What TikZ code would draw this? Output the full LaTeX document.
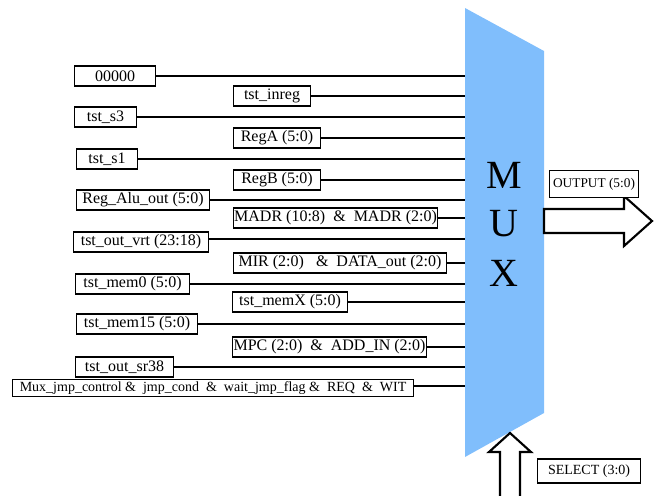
\documentclass[tikz,border=0pt]{standalone}
\usepackage{fontspec}
\setmainfont{Liberation Serif}
\definecolor{muxblue}{RGB}{128,190,252}
\begin{document}
\begin{tikzpicture}[x=0.75pt,y=-0.75pt,
  lbl/.style={draw=black, line width=0.8pt, fill=white, inner sep=0pt,
    minimum height=15pt, anchor=west, font=\fontsize{12}{12}\selectfont},
  bw/.style={minimum width={#1*0.75pt}},
  wire/.style={line width=1.5pt},
  bigarrow/.style={draw=black, fill=white, line width=1.6pt, line join=miter},
  muxtxt/.style={font=\fontsize{30}{30}\selectfont, inner sep=0pt}]
\useasboundingbox (0,0) rectangle (672,496);

% MUX body
\fill[muxblue] (465,8) -- (544,51) -- (544,413) -- (465,457) -- cycle;
\coordinate (muxL) at (465,0);
\coordinate (muxR) at (544,0);
\node[muxtxt] (m1) at (504,175) {M};
\node[muxtxt] (m2) at (504,224) {U};
\node[muxtxt] (m3) at (504,273) {X};

% input boxes
\node[lbl,bw=81]  (b1)  at (74,76)  {00000};
\node[lbl,bw=77]  (b2)  at (233,96) {tst\_inreg};
\node[lbl,bw=62]  (b3)  at (74,117) {tst\_s3};
\node[lbl,bw=87]  (b4)  at (233,138) {RegA (5:0)};
\node[lbl,bw=61]  (b5)  at (76,159) {tst\_s1};
\node[lbl,bw=87]  (b6)  at (233,180) {RegB (5:0)};
\node[lbl,bw=133] (b7)  at (76,200) {Reg\_Alu\_out (5:0)};
\node[lbl,bw=204] (b8)  at (233,218) {MADR (10:8)\ \ \&\ \ MADR (2:0)};
\node[lbl,bw=135] (b9)  at (73,242) {tst\_out\_vrt (23:18)};
\node[lbl,bw=213] (b10) at (233,263) {MIR (2:0)\ \ \ \&\ \ DATA\_out (2:0)};
\node[lbl,bw=114] (b11) at (75,284) {tst\_mem0 (5:0)};
\node[lbl,bw=115] (b12) at (232,302) {tst\_memX (5:0)};
\node[lbl,bw=121] (b13) at (76,324) {tst\_mem15 (5:0)};
\node[lbl,bw=194] (b14) at (232,347) {MPC (2:0)\ \ \&\ \ ADD\_IN (2:0)};
\node[lbl,bw=98]  (b15) at (75,367) {tst\_out\_sr38};
\node[lbl,bw=401,minimum height=13pt,font=\fontsize{10.5}{10.5}\selectfont] (b16) at (12,388)
  {Mux\_jmp\_control \&\ \ jmp\_cond\ \ \&\ \ wait\_jmp\_flag \&\ \ REQ\ \ \&\ \ WIT};

% wires
\draw[wire] (b1.east)  -- (b1.east -| muxL);
\draw[wire] (b2.east)  -- (b2.east -| muxL);
\draw[wire] (b3.east)  -- (b3.east -| muxL);
\draw[wire] (b4.east)  -- (b4.east -| muxL);
\draw[wire] (b5.east)  -- (b5.east -| muxL);
\draw[wire] (b6.east)  -- (b6.east -| muxL);
\draw[wire] (b7.east)  -- (b7.east -| muxL);
\draw[wire] (b8.east)  -- (b8.east -| muxL);
\draw[wire] (b9.east |- 0,239) -- (muxL |- 0,239);
\draw[wire] (b10.east) -- (b10.east -| muxL);
\draw[wire] (b11.east) -- (b11.east -| muxL);
\draw[wire] (b12.east) -- (b12.east -| muxL);
\draw[wire] (b13.east) -- (b13.east -| muxL);
\draw[wire] (b14.east) -- (b14.east -| muxL);
\draw[wire] (b15.east) -- (b15.east -| muxL);
\draw[wire] (b16.east |- 0,386) -- (muxL |- 0,386);

% output arrow
\draw[bigarrow] (544,209) -- (624,209) -- (624,196) -- (652,221) -- (624,246) -- (624,233) -- (544,233) -- cycle;
\node[lbl,bw=89,minimum height=20pt,font=\fontsize{10}{10}\selectfont] (out) at (549,184) {OUTPUT (5:0)};

% select arrow
\filldraw[bigarrow] (500,500) -- (500,452) -- (489,452) -- (510,433) -- (531,452) -- (520,452) -- (520,500);
\node[lbl,bw=103,minimum height=18pt,font=\fontsize{10.5}{10.5}\selectfont] (sel) at (537,471) {SELECT (3:0)};
\end{tikzpicture}
\end{document}
